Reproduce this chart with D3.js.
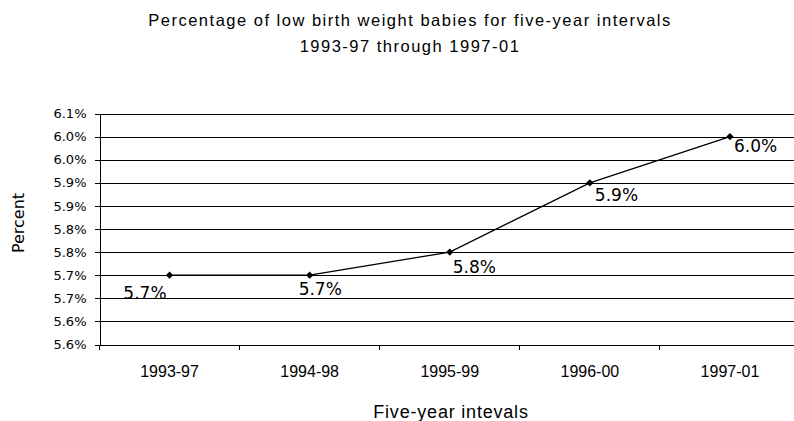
<!DOCTYPE html>
<html>
<head>
<meta charset="utf-8">
<script src="https://cdn.jsdelivr.net/npm/d3@7"></script>
<style>
	body { margin: 0; background: #fff; }
	svg { display: block; }
</style>
</head>
<body>
<div id="chart"></div>
<script>
var categories = ["1993-97", "1994-98", "1995-99", "1996-00", "1997-01"];
var percentValues = [5.70, 5.70, 5.75, 5.90, 6.00];
var valueLabels = ["5.7%", "5.7%", "5.8%", "5.9%", "6.0%"];
var yTickValues = [5.55, 5.60, 5.65, 5.70, 5.75, 5.80, 5.85, 5.90, 5.95, 6.00, 6.05];
var yTickLabels = ["5.6%", "5.6%", "5.7%", "5.7%", "5.8%", "5.8%", "5.9%", "5.9%", "6.0%", "6.0%", "6.1%"];
var titleLines = ["Percentage of low birth weight babies for five-year intervals", "1993-97 through 1997-01"];

var Chart = (function () {
	var width = 794, height = 421;
	var plot = { left: 99.5, right: 800, top: 113.5, bottom: 344.5 };
	var narrowFont = "'Liberation Sans', Arial, sans-serif";
	var wideFont = "'DejaVu Sans', Verdana, sans-serif";

	// excel put the labels in slightly different spots, keep the same nudges
	var labelNudge = [
		{ dx: -3, dy: 24, anchor: "end" },
		{ dx: -11, dy: 20, anchor: "start" },
		{ dx: 3, dy: 21, anchor: "start" },
		{ dx: 5, dy: 18.5, anchor: "start" },
		{ dx: 4, dy: 15.5, anchor: "start" }
	];

	function Chart() {
	}

	Chart.draw = function (elementId) {
		var svg = d3.select("#" + elementId).append("svg")
			.attr("width", width)
			.attr("height", height);

		var x = d3.scaleBand()
			.domain(categories)
			.range([plot.left, plot.right])
			.padding(0);

		var y = d3.scaleLinear()
			.domain([yTickValues[0], yTickValues[yTickValues.length - 1]])
			.range([plot.bottom, plot.top]);

		// title
		svg.append("g")
			.selectAll("text")
			.data(titleLines)
			.enter()
				.append("text")
					.attr("x", 410)
					.attr("y", function (d, i) { return 26 + i * 26; })
					.attr("text-anchor", "middle")
					.attr("font-family", narrowFont)
					.attr("font-size", 16.5)
					.attr("letter-spacing", 1.5)
					.attr("fill", "#000")
					.text(function (d) { return d; });

		// gridlines
		svg.append("g")
			.attr("stroke", "#000")
			.attr("stroke-width", 1)
			.attr("shape-rendering", "crispEdges")
			.selectAll("line")
			.data(yTickValues)
			.enter()
				.append("line")
					.attr("x1", plot.left - 5)
					.attr("x2", plot.right)
					.attr("y1", function (d) { return Math.round(y(d)) + 0.5; })
					.attr("y2", function (d) { return Math.round(y(d)) + 0.5; });

		// y axis
		var yAxis = d3.axisLeft(y)
			.tickValues(yTickValues)
			.tickSize(5)
			.tickPadding(8)
			.tickFormat(function (d, i) { return yTickLabels[i]; });

		var gy = svg.append("g")
			.attr("transform", "translate(" + plot.left + ",0)")
			.call(yAxis);
		gy.select(".domain").attr("stroke", "#000").attr("shape-rendering", "crispEdges");
		gy.selectAll(".tick line").remove();
		gy.selectAll(".tick text")
			.attr("font-family", wideFont)
			.attr("font-size", 13)
			.attr("fill", "#000");

		// x axis, ticks sit on the category boundaries
		var xAxis = d3.axisBottom(x)
			.tickSize(0)
			.tickPadding(21);

		var gx = svg.append("g")
			.attr("transform", "translate(0," + plot.bottom + ")")
			.call(xAxis);
		gx.select(".domain").remove();
		gx.selectAll(".tick text")
			.attr("font-family", narrowFont)
			.attr("font-size", 16)
			.attr("fill", "#000");

		var edges = categories.map(function (c) { return x(c); }).concat([x(categories[categories.length - 1]) + x.bandwidth()]);
		svg.append("g")
			.attr("stroke", "#000")
			.attr("shape-rendering", "crispEdges")
			.selectAll("line")
			.data(edges)
			.enter()
				.append("line")
					.attr("x1", function (d) { return d; })
					.attr("x2", function (d) { return d; })
					.attr("y1", plot.bottom)
					.attr("y2", plot.bottom + 5);

		// axis titles
		svg.append("text")
			.attr("transform", "translate(24,223) rotate(-90)")
			.attr("text-anchor", "middle")
			.attr("font-family", wideFont)
			.attr("font-size", 16)
			.attr("fill", "#000")
			.text("Percent");

		svg.append("text")
			.attr("x", 451)
			.attr("y", 417.5)
			.attr("text-anchor", "middle")
			.attr("font-family", narrowFont)
			.attr("font-size", 18)
			.attr("letter-spacing", 0.8)
			.attr("fill", "#000")
			.text("Five-year intevals");

		// the line
		var points = categories.map(function (c, i) { return { cat: c, value: percentValues[i], label: valueLabels[i] }; });
		var line = d3.line()
			.x(function (d) { return x(d.cat) + x.bandwidth() / 2; })
			.y(function (d) { return y(d.value); });

		svg.append("path")
			.datum(points)
			.attr("fill", "none")
			.attr("stroke", "#000")
			.attr("stroke-width", 1.3)
			.attr("d", line);

		svg.append("g")
			.attr("fill", "#000")
			.selectAll("path")
			.data(points)
			.enter()
				.append("path")
					.attr("d", d3.symbol().type(d3.symbolSquare).size(26))
					.attr("transform", function (d) {
						return "translate(" + (x(d.cat) + x.bandwidth() / 2) + "," + y(d.value) + ") rotate(45)";
					});

		svg.append("g")
			.selectAll("text")
			.data(points)
			.enter()
				.append("text")
					.attr("x", function (d, i) { return x(d.cat) + x.bandwidth() / 2 + labelNudge[i].dx; })
					.attr("y", function (d, i) { return y(d.value) + labelNudge[i].dy; })
					.attr("text-anchor", function (d, i) { return labelNudge[i].anchor; })
					.attr("font-family", wideFont)
					.attr("font-size", 17)
					.attr("fill", "#000")
					.text(function (d) { return d.label; });
	};

	return Chart;
})();

Chart.draw("chart");
</script>
</body>
</html>
